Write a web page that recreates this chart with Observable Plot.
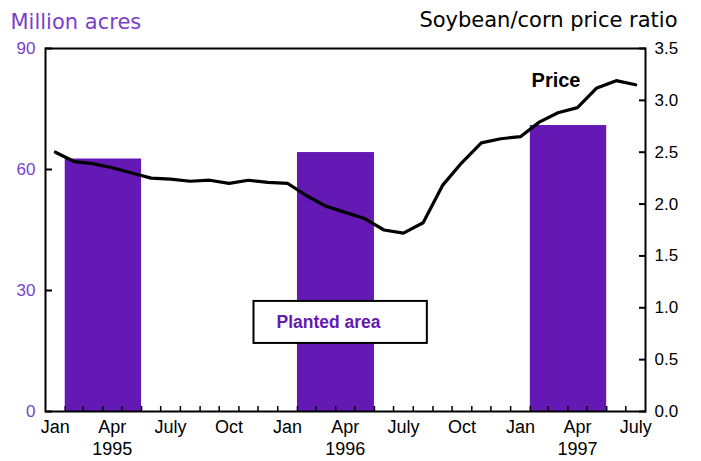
<!DOCTYPE html>
<html><head><meta charset="utf-8">
<script src="https://cdn.jsdelivr.net/npm/d3@7"></script>
<script src="https://cdn.jsdelivr.net/npm/@observablehq/plot@0.6"></script>
<style>body{margin:0;background:#fff} svg{display:block}</style>
</head><body><div id="chart"></div>
<script>
// ---- data ----
const priceMonths = ["1995-01","1995-02","1995-03","1995-04","1995-05","1995-06","1995-07","1995-08","1995-09","1995-10","1995-11","1995-12",
  "1996-01","1996-02","1996-03","1996-04","1996-05","1996-06","1996-07","1996-08","1996-09","1996-10","1996-11","1996-12",
  "1997-01","1997-02","1997-03","1997-04","1997-05","1997-06","1997-07"];
const priceRatio = [2.50,2.41,2.39,2.35,2.30,2.25,2.24,2.22,2.23,2.20,2.23,2.21,
  2.20,2.08,1.98,1.92,1.86,1.75,1.72,1.82,2.18,2.40,2.59,2.63,
  2.65,2.79,2.88,2.93,3.12,3.19,3.15];
const plantedYears = [1995, 1996, 1997];
const plantedArea = [62.6, 64.2, 70.9];
const monthLabelMonths = ["1995-01","1995-04","1995-07","1995-10","1996-01","1996-04","1996-07","1996-10","1997-01","1997-04","1997-07"];
const monthLabelText = ["Jan","Apr","July","Oct","Jan","Apr","July","Oct","Jan","Apr","July"];
const yearLabelMonths = ["1995-04","1996-04","1997-04"];
const yearLabelText = ["1995","1996","1997"];
const leftTicks = [0, 30, 60, 90];
const rightTicks = [0, 0.5, 1.0, 1.5, 2.0, 2.5, 3.0, 3.5];

// ---- helpers ----
const K = 90 / 3.5;
const start = s => new Date(s + "-01T00:00:00Z");
const mid = s => { const d = start(s); return new Date((+d + +d3.utcMonth.offset(d, 1)) / 2); };
const priceData = priceMonths.map((m, i) => ({date: mid(m), v: priceRatio[i] * K}));
const bars = plantedYears.map((y, i) => ({x1: new Date(Date.UTC(y, 1, 1)), x2: new Date(Date.UTC(y, 5, 1)), area: plantedArea[i]}));
const monthBounds = d3.utcMonth.range(start(priceMonths[1]), d3.utcMonth.offset(start(priceMonths[priceMonths.length-1]), 1));
const monthLabelMap = new Map(monthLabelMonths.map((m, i) => [+mid(m), monthLabelText[i]]));
const yearLabelMap = new Map(yearLabelMonths.map((m, i) => [+mid(m), yearLabelText[i]]));
const PURPLE = "#6418b4";
const LPURPLE = "#7a3fcc";
const TITLEFONT = "'DejaVu Sans', sans-serif";

const chart = Plot.plot({
  width: 701, height: 461,
  marginLeft: 45, marginRight: 56, marginTop: 48, marginBottom: 50,
  style: {fontFamily: "'Liberation Sans', Arial, sans-serif", fontSize: "17px", background: "#fff", color: "#000"},
  x: {type: "utc", domain: [start(priceMonths[0]), d3.utcMonth.offset(start(priceMonths[priceMonths.length-1]), 1)]},
  y: {domain: [0, 90]},
  marks: [
    Plot.rectY(bars, {x1: "x1", x2: "x2", y: "area", fill: PURPLE}),
    Plot.line(priceData, {x: "date", y: "v", stroke: "#000", strokeWidth: 3.2}),
    Plot.axisX(monthBounds, {tickSize: -5, tickFormat: () => "", label: null, strokeWidth: 1.5}),
    Plot.axisX(monthLabelMonths.map(mid), {tickSize: 0, tickPadding: 9, tickFormat: d => monthLabelMap.get(+d), label: null, fontSize: 18}),
    Plot.axisX(yearLabelMonths.map(mid), {tickSize: 0, tickPadding: 31, tickFormat: d => yearLabelMap.get(+d), label: null, fontSize: 18}),
    Plot.axisY(leftTicks, {tickSize: -7, tickFormat: () => "", label: null, strokeWidth: 2}),
    Plot.axisY(leftTicks, {tickSize: 0, tickPadding: 10, tickFormat: d => String(d), label: null, fill: LPURPLE}),
    Plot.axisY(rightTicks.map(v => v * K), {anchor: "right", tickSize: -7, tickFormat: () => "", label: null, strokeWidth: 2}),
    Plot.axisY(rightTicks.map(v => v * K), {anchor: "right", tickSize: 0, tickPadding: 9, tickFormat: d => (d / K).toFixed(1), label: null}),
    Plot.frame({stroke: "#000", strokeWidth: 2}),
    Plot.text(["Million acres"], {frameAnchor: "top-left", dx: -35, dy: -34, textAnchor: "start", fill: LPURPLE, fontSize: 21, fontFamily: TITLEFONT}),
    Plot.text(["Soybean/corn price ratio"], {frameAnchor: "top-right", dx: 32, dy: -36, textAnchor: "end", fill: "#000", fontSize: 21, fontFamily: TITLEFONT}),
    Plot.text(["Price"], {frameAnchor: "top-right", dx: -65, dy: 24, textAnchor: "end", fill: "#000", fontSize: 20, fontWeight: "bold"}),
    Plot.text(["Planted area"], {frameAnchor: "top-left", dx: 231, dy: 267, textAnchor: "start", fill: PURPLE, fontSize: 17.5, fontWeight: "bold"})
  ]
});
document.getElementById("chart").appendChild(chart);

// legend box around "Planted area"
const t = Array.from(chart.querySelectorAll("text")).find(e => e.textContent === "Planted area");
if (t) {
  const sr = chart.getBoundingClientRect();
  const b = t.getBoundingClientRect();
  const g = t.closest("g");
  const rect = document.createElementNS("http://www.w3.org/2000/svg", "rect");
  const cx = b.left - sr.left, cy = b.top - sr.top + b.height / 2;
  rect.setAttribute("x", cx - 23);
  rect.setAttribute("y", cy - 21);
  rect.setAttribute("width", b.width + 69);
  rect.setAttribute("height", 42);
  rect.setAttribute("fill", "#fff");
  rect.setAttribute("stroke", "#000");
  rect.setAttribute("stroke-width", 2);
  g.parentNode.insertBefore(rect, g);
}
</script>
</body></html>
